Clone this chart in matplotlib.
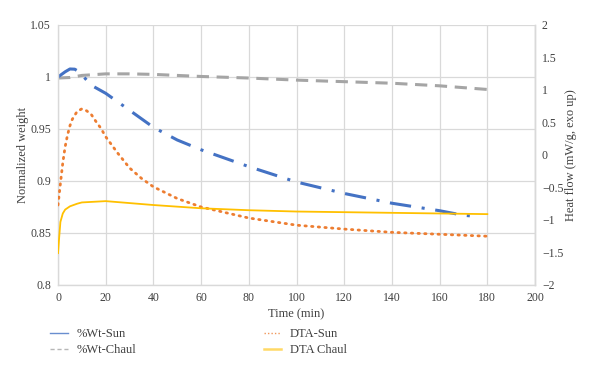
import numpy as np
import matplotlib
matplotlib.use("Agg")
import matplotlib.pyplot as plt
from matplotlib.lines import Line2D
from matplotlib.ticker import FuncFormatter

# %Wt-Sun (left axis)
t_wt_sun = [0, 3, 5, 7, 9, 12, 15, 20, 30, 40, 50, 60, 80, 100, 120, 140, 160, 170, 177]
wt_sun = [1.0, 1.005, 1.0077, 1.0075, 1.0048, 0.997, 0.9907, 0.9843, 0.968, 0.9516, 0.9394,
          0.930, 0.9138, 0.899, 0.888, 0.8786, 0.8714, 0.867, 0.8657]

# %Wt-Chaul (left axis)
t_wt_chaul = [0, 5, 10, 20, 30, 40, 60, 80, 100, 120, 140, 160, 180]
wt_chaul = [0.999, 0.9995, 1.0015, 1.003, 1.003, 1.0025, 1.0005, 0.999, 0.997, 0.9955,
            0.994, 0.9915, 0.988]

# DTA-Sun (right axis)
t_dta_sun = [0, 1, 2, 3, 4, 5, 6, 8, 10, 12, 14, 16, 18, 20, 25, 30, 35, 40, 50, 60,
             80, 100, 120, 140, 160, 180]
dta_sun = [-0.77, -0.44, -0.12, 0.13, 0.31, 0.45, 0.55, 0.67, 0.71, 0.68, 0.62, 0.51, 0.41,
           0.28, 0.03, -0.2, -0.36, -0.49, -0.67, -0.8, -0.97, -1.08, -1.14, -1.19, -1.22, -1.25]

# DTA Chaul (right axis)
t_dta_chaul = [0, 0.5, 1, 2, 3, 5, 8, 10, 15, 20, 30, 40, 60, 80, 100, 120, 140, 160, 180]
dta_chaul = [-1.51, -1.26, -1.03, -0.9, -0.84, -0.79, -0.75, -0.73, -0.72, -0.71, -0.74,
             -0.77, -0.82, -0.85, -0.87, -0.88, -0.89, -0.9, -0.91]

plt.rcParams["font.family"] = ["Liberation Serif", "DejaVu Serif"]
plt.rcParams["font.size"] = 8
txt_col = "#404040"
grid_col = "#d9d9d9"

fig = plt.figure(figsize=(6, 3.73), dpi=100)
ax = fig.add_axes([0.0967, 0.236, 0.795, 0.697])
ax2 = ax.twinx()

ax.set_xlim(0, 200)
ax.set_ylim(0.8, 1.05)
ax2.set_ylim(-2, 2)
ax.set_xticks(np.arange(0, 201, 20))
ax.set_yticks(np.arange(0.8, 1.0501, 0.05))
ax2.set_yticks(np.arange(-2, 2.01, 0.5))

fmt = FuncFormatter(lambda v, p: ("%g" % round(v, 3)).replace("-", "\u2212"))
ax.yaxis.set_major_formatter(fmt)
ax2.yaxis.set_major_formatter(fmt)

ax.grid(True, color=grid_col, lw=0.9)
ax.set_axisbelow(True)
for a in (ax, ax2):
    a.spines["top"].set_visible(False)
    for s in ("left", "bottom", "right"):
        a.spines[s].set_color(grid_col)
        a.spines[s].set_linewidth(1.0)
    a.tick_params(length=0, colors=txt_col, labelsize=8.5, pad=5)
ax2.spines["left"].set_visible(False)
ax2.spines["bottom"].set_visible(False)

ax.plot(t_wt_chaul, wt_chaul, color="#a5a5a5", lw=2.2, ls=(0, (4, 2.5)))
ax.plot(t_wt_sun, wt_sun, color="#4472c4", lw=2.2, ls=(0, (7, 3.5, 1, 3.5)))
ax2.plot(t_dta_sun, dta_sun, color="#ed7d31", lw=2.0, ls=(0, (0.5, 1.9)),
         dash_capstyle="round")
ax2.plot(t_dta_chaul, dta_chaul, color="#ffc000", lw=1.3)

ax.set_xlabel("Time (min)", color=txt_col, fontsize=9, labelpad=3)
ax.set_ylabel("Normalized weight", color=txt_col, fontsize=9, labelpad=1)
ax2.set_ylabel("Heat flow (mW/g, exo up)", color=txt_col, fontsize=9, labelpad=1)

handles = [
    Line2D([], [], color="#4472c4", lw=1.0, alpha=0.8),
    Line2D([], [], color="#a5a5a5", lw=1.0, ls=(0, (3, 2)), alpha=0.8),
    Line2D([], [], color="#ed7d31", lw=1.0, ls=(0, (1, 1.5)), alpha=0.8),
    Line2D([], [], color="#ffc000", lw=1.8, alpha=0.6),
]
labels = ["%Wt-Sun", "%Wt-Chaul", "DTA-Sun", "DTA Chaul"]
fig.legend(handles, labels, loc="upper left", bbox_to_anchor=(0.065, 0.15), ncol=2,
           frameon=False, handlelength=1.4, handletextpad=0.7, columnspacing=10.2,
           labelspacing=0.3, fontsize=9, labelcolor=txt_col)

fig.savefig("out.png", dpi=100)
